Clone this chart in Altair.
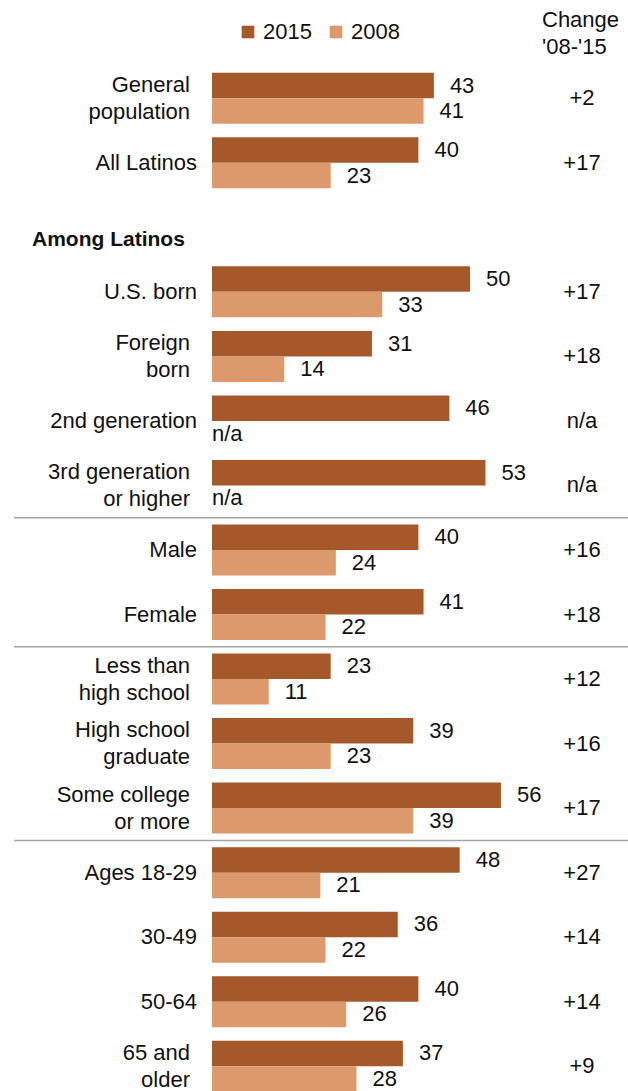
import altair as alt
import pandas as pd

# ---- data ----
rows = ["General\npopulation", "All Latinos", "Among Latinos", "U.S. born",
        "Foreign\nborn", "2nd generation", "3rd generation\nor higher",
        "Male", "Female", "Less than\nhigh school", "High school\ngraduate",
        "Some college\nor more", "Ages 18-29", "30-49", "50-64", "65 and\nolder"]
v2015 = [43, 40, None, 50, 31, 46, 53, 40, 41, 23, 39, 56, 48, 36, 40, 37]
v2008 = [41, 23, None, 33, 14, None, None, 24, 22, 11, 23, 39, 21, 22, 26, 28]
change = ["+2", "+17", "", "+17", "+18", "n/a", "n/a", "+16", "+18",
          "+12", "+16", "+17", "+27", "+14", "+14", "+9"]
series = ["2015", "2008"]
colors = ["#A5592A", "#DC996B"]
heading = "Among Latinos"
separators = ["Male", "Less than\nhigh school", "Ages 18-29"]
header_text = "Change\n'08-'15"

FONT = "Liberation Sans"
TXT = "#111111"

# ---- tables built from the arrays ----
long_rows = []
for r, a, b in zip(rows, v2015, v2008):
    if r == heading:
        continue
    for s, v in zip(series, [a, b]):
        long_rows.append({"row": r, "series": s, "value": v,
                          "text": "n/a" if v is None else str(v)})
long_df = pd.DataFrame(long_rows)
bars_df = long_df[long_df["value"].notna()]
na_df = long_df[long_df["value"].isna()]

cat_df = pd.DataFrame({"row": rows, "change": change})
cat_df = cat_df[cat_df["row"] != heading]
single_df = cat_df[~cat_df["row"].str.contains("\n")]
multi_df = cat_df[cat_df["row"].str.contains("\n")]
head_df = pd.DataFrame({"row": [heading]})
sep_df = pd.DataFrame({"row": separators})
hdr_df = pd.DataFrame({"t": [header_text]})

yscale = alt.Scale(domain=rows, range=[66, 1098.5], paddingInner=0, paddingOuter=0)
xscale = alt.Scale(domain=[0, 100], range=[212, 728])
offscale = alt.Scale(domain=series, paddingInner=0, paddingOuter=0.265)

Y = alt.Y("row:N", scale=yscale, axis=None)
YO = alt.YOffset("series:N", scale=offscale)

bars = alt.Chart(bars_df).mark_bar().encode(
    x=alt.X("value:Q", scale=xscale, axis=None),
    y=Y,
    yOffset=YO,
    color=alt.Color("series:N", scale=alt.Scale(domain=series, range=colors),
                    legend=alt.Legend(title=None, orient="none", legendX=237,
                                      legendY=21, direction="horizontal",
                                      symbolType="square", symbolSize=160,
                                      symbolStrokeWidth=0, symbolOpacity=1,
                                      labelFont=FONT, labelFontSize=22,
                                      labelColor=TXT, labelOffset=4,
                                      columnPadding=13, padding=0)),
)

val_labels = alt.Chart(bars_df).mark_text(
    align="left", baseline="middle", dx=16, font=FONT, fontSize=22, color=TXT
).encode(x=alt.X("value:Q", scale=xscale), y=Y, yOffset=YO, text="text:N")

na_labels = alt.Chart(na_df).mark_text(
    align="left", baseline="middle", dx=0, font=FONT, fontSize=22, color=TXT
).encode(x=alt.datum(0, scale=xscale), y=Y, yOffset=YO, text="text:N")

single_labels = alt.Chart(single_df).mark_text(
    align="right", baseline="middle", font=FONT, fontSize=22, color=TXT
).encode(x=alt.value(197), y=Y, text="row:N")

multi_labels = alt.Chart(multi_df).mark_text(
    align="right", baseline="middle", dy=-13.5, font=FONT, fontSize=22, color=TXT,
    lineBreak="\n", lineHeight=27
).encode(x=alt.value(190), y=Y, text="row:N")

change_labels = alt.Chart(cat_df).mark_text(
    align="center", baseline="middle", font=FONT, fontSize=22, color=TXT
).encode(x=alt.value(582), y=Y, text="change:N")

head = alt.Chart(head_df).mark_text(
    align="left", baseline="middle", dy=13, font=FONT, fontSize=21,
    fontWeight="bold", color=TXT
).encode(x=alt.value(32), y=Y, text="row:N")

seps = alt.Chart(sep_df).mark_rule(color="#A3A3A3", strokeWidth=1.5).encode(
    y=alt.Y("row:N", scale=yscale, axis=None, bandPosition=0),
    x=alt.value(14), x2=alt.value(628),
)

hdr = alt.Chart(hdr_df).mark_text(
    align="left", baseline="middle", font=FONT, fontSize=22, color=TXT,
    lineBreak="\n", lineHeight=27
).encode(x=alt.value(542), y=alt.value(20), text="t:N")

chart = alt.layer(
    bars, val_labels, na_labels, single_labels, multi_labels,
    change_labels, head, seps, hdr
).properties(
    width=628, height=1091, autosize=alt.AutoSizeParams(type="none"),
    padding=0, background="white"
).configure_view(stroke=None)

chart.save("out.html", embed_options={"renderer": "svg", "actions": False})
